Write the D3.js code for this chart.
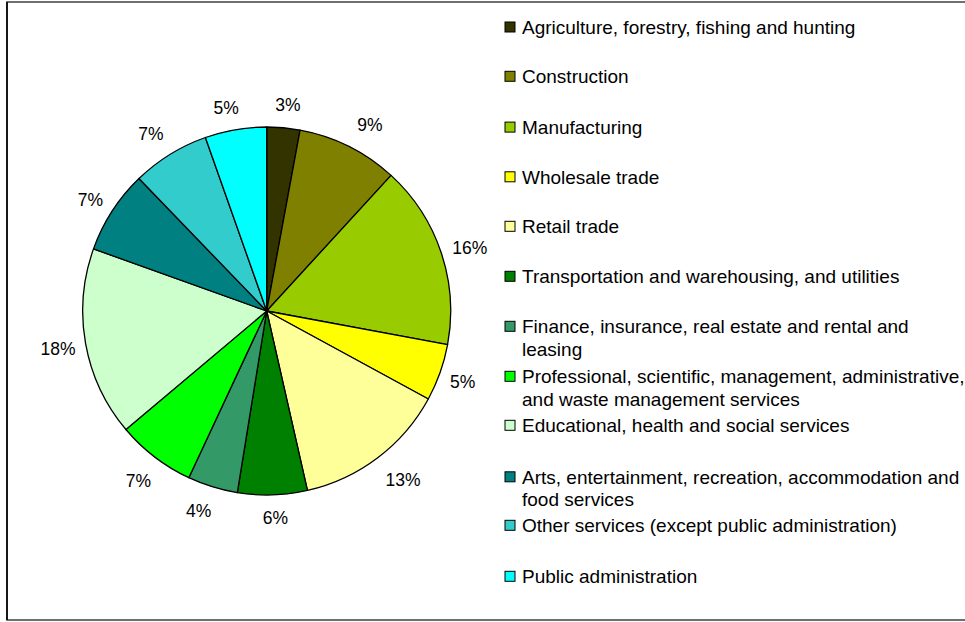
<!DOCTYPE html>
<html>
<head>
<meta charset="utf-8">
<script src="https://cdn.jsdelivr.net/npm/d3@7"></script>
<style>
  html, body { margin: 0; padding: 0; background: #fff; }
  svg { display: block; }
  text { font-family: "Liberation Sans", Arial, sans-serif; fill: #000; }
</style>
</head>
<body>
<svg id="chart" width="965" height="622"></svg>
<script>
// ---- data ----
const categories = [
  "Agriculture, forestry, fishing and hunting",
  "Construction",
  "Manufacturing",
  "Wholesale trade",
  "Retail trade",
  "Transportation and warehousing, and utilities",
  "Finance, insurance, real estate and rental and leasing",
  "Professional, scientific, management, administrative, and waste management services",
  "Educational, health and social services",
  "Arts, entertainment, recreation, accommodation and food services",
  "Other services (except public administration)",
  "Public administration"
];
const shares = [2.9, 8.9, 16.1, 5.0, 13.5, 6.1, 4.4, 6.9, 16.6, 7.3, 6.8, 5.4];
// percentage labels as printed on the chart
const shareLabels = ["3%", "9%", "16%", "5%", "13%", "6%", "4%", "7%", "18%", "7%", "7%", "5%"];
// legend text, broken into lines as shown
const legendLines = [
  ["Agriculture, forestry, fishing and hunting"],
  ["Construction"],
  ["Manufacturing"],
  ["Wholesale trade"],
  ["Retail trade"],
  ["Transportation and warehousing, and utilities"],
  ["Finance, insurance, real estate and rental and", "leasing"],
  ["Professional, scientific, management, administrative,", "and waste management services"],
  ["Educational, health and social services"],
  ["Arts, entertainment, recreation, accommodation and", "food services"],
  ["Other services (except public administration)"],
  ["Public administration"]
];
const colors = ["#333300", "#808000", "#99CC00", "#FFFF00", "#FFFF99", "#008000",
                "#339966", "#00FF00", "#CCFFCC", "#008080", "#33CCCC", "#00FFFF"];

// ---- layout ----
const W = 965, H = 622;
const cx = 266.7, cy = 311, R = 184, labelR = 211;
// small per-label placement offsets (layout only)
const labelNudge = [[2, 4], [9, 3], [3, 4], [-3, 0], [9, 0], [2, -4],
                    [-6, -2], [0, 2], [-1, 0], [1, 3], [-5, 2], [-5, 5]];
const legendX = 505, legendTextX = 522;
const legendRowY = [27.2, 76.5, 127.3, 177, 226.5, 276.5, 326.5, 376.5, 425.5, 477, 525.5, 576.5];
const lineH = 22.5;

const svg = d3.select("#chart");

// frame
svg.append("rect")
  .attr("x", 7).attr("y", 2).attr("width", W + 10).attr("height", 618)
  .attr("fill", "none").attr("stroke", "#4d4d4d").attr("stroke-width", 1.6);
svg.append("line").attr("x1", 7).attr("x2", 7).attr("y1", 2).attr("y2", 620)
  .attr("stroke", "#000").attr("stroke-width", 1.6);

const color = d3.scaleOrdinal().domain(categories).range(colors);

const pie = d3.pie().sort(null).value(d => d.v);
const data = categories.map((c, i) => ({ c, v: shares[i], lab: shareLabels[i], i }));
const arcs = pie(data);
const arc = d3.arc().innerRadius(0).outerRadius(R);

const g = svg.append("g").attr("transform", `translate(${cx},${cy})`);
g.selectAll("path.slice")
  .data(arcs)
  .join("path")
  .attr("class", "slice")
  .attr("d", arc)
  .attr("fill", d => color(d.data.c))
  .attr("stroke", "#000")
  .attr("stroke-width", 1.3)
  .attr("stroke-linejoin", "round");

const labelArc = d3.arc().innerRadius(labelR).outerRadius(labelR);
g.selectAll("text.pct")
  .data(arcs)
  .join("text")
  .attr("class", "pct")
  .attr("transform", d => {
    const [x, y] = labelArc.centroid(d);
    const n = labelNudge[d.data.i];
    return `translate(${x + n[0]},${y + n[1]})`;
  })
  .attr("text-anchor", "middle")
  .attr("dy", "0.36em")
  .style("font-size", "17.5px")
  .text(d => d.data.lab);

// legend
const leg = svg.append("g");
const items = leg.selectAll("g.item")
  .data(categories)
  .join("g")
  .attr("class", "item")
  .attr("transform", (d, i) => `translate(0,${legendRowY[i]})`);

items.append("rect")
  .attr("x", legendX).attr("y", -5.2)
  .attr("width", 10).attr("height", 10)
  .attr("fill", d => color(d))
  .attr("stroke", "#000").attr("stroke-width", 1);

items.append("text")
  .style("font-size", "19px")
  .selectAll("tspan")
  .data((d, i) => legendLines[i])
  .join("tspan")
  .attr("x", legendTextX)
  .attr("y", (d, j) => j * lineH)
  .attr("dy", "0.36em")
  .text(d => d);
</script>
</body>
</html>
